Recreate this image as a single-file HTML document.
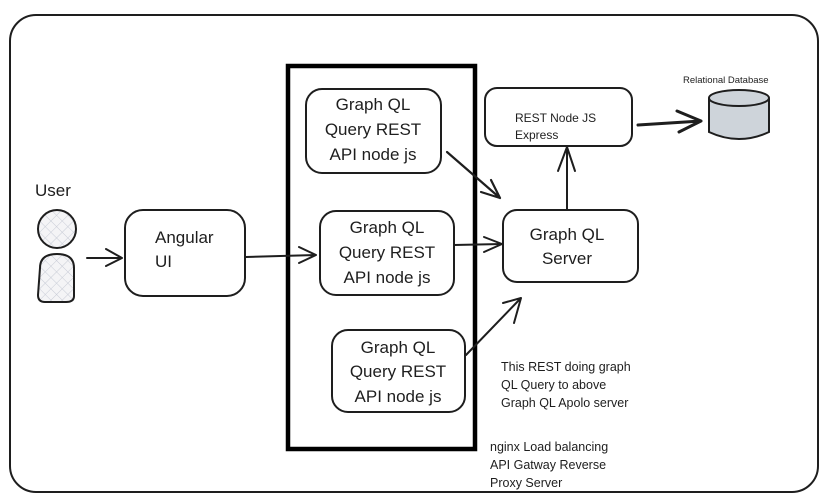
<!DOCTYPE html>
<html><head><meta charset="utf-8"><style>
html,body{margin:0;padding:0;background:#fff}
svg{display:block}
.h{font-family:"Comic Sans MS","Liberation Sans",sans-serif;fill:#1e1e1e}
.p{font-family:"Liberation Sans",sans-serif;fill:#1e1e1e;font-size:12.5px}
</style></head><body>
<svg width="827" height="501" viewBox="0 0 827 501" xmlns="http://www.w3.org/2000/svg">
<defs>
<pattern id="hatch" width="8" height="8" patternUnits="userSpaceOnUse" patternTransform="rotate(45)">
<rect width="8" height="8" fill="#f4f4f6"/>
<line x1="0" y1="0" x2="0" y2="8" stroke="#c8ccd6" stroke-width="1"/>
<line x1="0" y1="0" x2="8" y2="0" stroke="#c8ccd6" stroke-width="1"/>
</pattern>
</defs>
<g fill="none" stroke="#1e1e1e" stroke-width="2" stroke-linecap="round" stroke-linejoin="round">
<rect x="10" y="15" width="808" height="477" rx="26"/>
<rect x="288" y="66" width="187" height="383" stroke="#000" stroke-width="4.5" stroke-linejoin="miter"/>
<rect x="125" y="210" width="120" height="86" rx="18"/>
<rect x="306" y="89" width="135" height="84" rx="16"/>
<rect x="320" y="211" width="134" height="84" rx="16"/>
<rect x="332" y="330" width="133" height="82" rx="16"/>
<rect x="503" y="210" width="135" height="72" rx="14"/>
<rect x="485" y="88" width="147" height="58" rx="12"/>
<!-- arrows -->
<path d="M87 258 L122 258 M106 249 L122 258 L106 266"/>
<path d="M246 257 L316 255 M299 247 L316 255 L299 263"/>
<path d="M447 152 L500 198 M491 180 L500 198 L481 192" stroke-width="2.2"/>
<path d="M454 245 L502 244 M484 237 L502 244 L484 252"/>
<path d="M466 355 L521 298 M503 303 L521 298 L514 323"/>
<path d="M567 210 L567 147 M558 171 L567 147 L575 171"/>
<path d="M638 125 L701 121 M677 111 L701 121 L679 132" stroke-width="3"/>
</g>
<!-- user -->
<circle cx="57" cy="229" r="19" fill="url(#hatch)" stroke="#1e1e1e" stroke-width="2"/>
<path d="M40 268 Q40 254 57 254 Q74 254 74 268 L74 296 Q74 302 66 302 L45 302 Q38 302 38 295 Z" fill="url(#hatch)" stroke="#1e1e1e" stroke-width="2"/>
<!-- db -->
<path d="M709 98 L709 132 Q739 146 769 132 L769 98" fill="#ced4da" stroke="#1e1e1e" stroke-width="2"/>
<ellipse cx="739" cy="98" rx="30" ry="8" fill="#ced4da" stroke="#1e1e1e" stroke-width="2"/>
<text class="h" x="35" y="196" font-size="17">User</text>
<text class="h" x="155" y="243" font-size="17">Angular</text>
<text class="h" x="155" y="267" font-size="17">UI</text>
<g class="h" font-size="17" text-anchor="middle">
<text x="373" y="110">Graph QL</text><text x="373" y="135">Query REST</text><text x="373" y="160">API node js</text>
<text x="387" y="233">Graph QL</text><text x="387" y="258">Query REST</text><text x="387" y="283">API node js</text>
<text x="398" y="353">Graph QL</text><text x="398" y="377">Query REST</text><text x="398" y="402">API node js</text>
<text x="567" y="240">Graph QL</text><text x="567" y="264">Server</text>
</g>
<text class="h" x="515" y="122" font-size="12">REST Node JS</text>
<text class="h" x="515" y="139" font-size="12">Express</text>
<text class="h" x="683" y="83" font-size="9.5">Relational Database</text>
<text class="p" x="501" y="371">This REST doing graph</text>
<text class="p" x="501" y="389">QL Query to above</text>
<text class="p" x="501" y="407">Graph QL Apolo server</text>
<text class="p" x="490" y="451">nginx Load balancing</text>
<text class="p" x="490" y="469">API Gatway Reverse</text>
<text class="p" x="490" y="487">Proxy Server</text>
</svg>
</body></html>
